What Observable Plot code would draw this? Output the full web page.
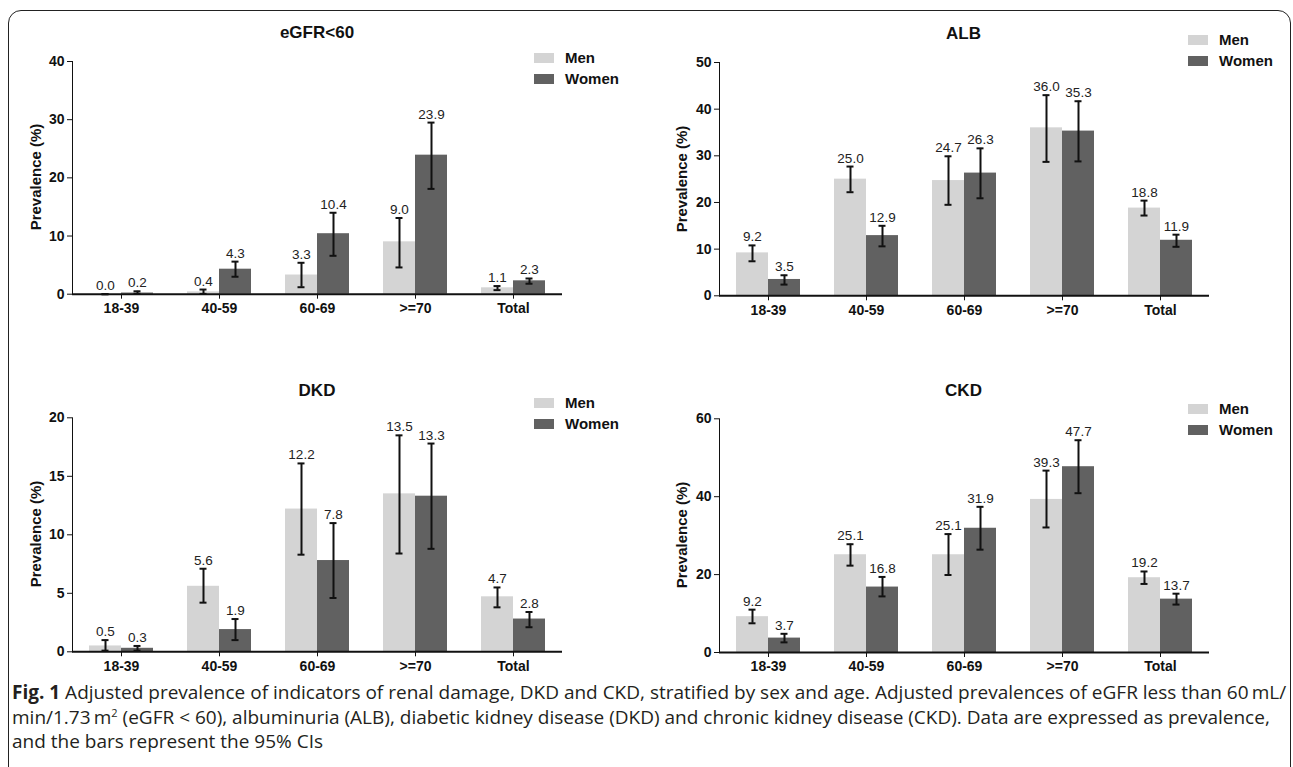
<!DOCTYPE html>
<html>
<head>
<meta charset="utf-8">
<script src="https://cdn.jsdelivr.net/npm/d3@7"></script>
<script src="https://cdn.jsdelivr.net/npm/@observablehq/plot@0.6"></script>
<style>
  html, body { margin: 0; padding: 0; background: #fff; }
  body { width: 1293px; height: 767px; position: relative; overflow: hidden; font-family: Arial, "Liberation Sans", Helvetica, sans-serif; }
  #frame { position: absolute; left: 8px; top: 10px; width: 1283px; height: 800px; border: 1.6px solid #222; border-radius: 13px; box-sizing: border-box; }
  .panel { position: absolute; }
  .title { position: absolute; font-weight: bold; font-size: 17px; color: #111; transform: translate(-50%, -50%); white-space: nowrap; }
  .ylab { position: absolute; font-weight: bold; font-size: 15px; color: #111; transform: translate(-50%, -50%) rotate(-90deg); white-space: nowrap; }
  .legend { position: absolute; font-weight: bold; font-size: 15px; color: #111; }
  .legend .row { position: absolute; left: 0; white-space: nowrap; height: 20px; line-height: 20px; }
  .legend .sw { display: inline-block; width: 20px; height: 10px; vertical-align: middle; margin-right: 11px; position: relative; top: -1px; }
  #caption { position: absolute; left: 12px; top: 680px; width: 1280px; font-family: "Open Sans", "Noto Sans", sans-serif; font-size: 19px; line-height: 24.5px; color: #231f20; white-space: nowrap; }
  #caption b { font-weight: bold; }
</style>
</head>
<body>
<div id="frame"></div>
<div id="root"></div>
<div id="caption"><b>Fig. 1</b> Adjusted prevalence of indicators of renal damage, DKD and CKD, stratified by sex and age. Adjusted prevalences of eGFR less than 60&#8201;mL/<br>min/1.73&#8201;m<sup style="font-size:11px;line-height:0">2</sup> (eGFR &lt; 60), albuminuria (ALB), diabetic kidney disease (DKD) and chronic kidney disease (CKD). Data are expressed as prevalence,<br>and the bars represent the 95% CIs</div>
<script>
// ---------- data ----------
const categories = ["18-39", "40-59", "60-69", ">=70", "Total"];
const sexes = ["Men", "Women"];
const colors = ["#d4d4d4", "#616161"];

// eGFR<60
const egfrMen = [0.0, 0.4, 3.3, 9.0, 1.1];
const egfrWomen = [0.2, 4.3, 10.4, 23.9, 2.3];
const egfrMenLow = [0.0, 0.05, 1.2, 4.6, 0.7];
const egfrMenHigh = [0.0, 0.8, 5.4, 13.1, 1.4];
const egfrWomenLow = [0.05, 3.0, 6.6, 18.1, 1.8];
const egfrWomenHigh = [0.5, 5.6, 14.0, 29.5, 2.7];
const egfrTicks = [0, 10, 20, 30, 40];

// ALB
const albMen = [9.2, 25.0, 24.7, 36.0, 18.8];
const albWomen = [3.5, 12.9, 26.3, 35.3, 11.9];
const albMenLow = [7.4, 22.2, 19.5, 28.7, 17.2];
const albMenHigh = [10.8, 27.7, 29.9, 43.0, 20.4];
const albWomenLow = [2.4, 10.6, 20.9, 28.8, 10.5];
const albWomenHigh = [4.4, 15.0, 31.6, 41.7, 13.1];
const albTicks = [0, 10, 20, 30, 40, 50];

// DKD
const dkdMen = [0.5, 5.6, 12.2, 13.5, 4.7];
const dkdWomen = [0.3, 1.9, 7.8, 13.3, 2.8];
const dkdMenLow = [0.1, 4.2, 8.3, 8.4, 3.8];
const dkdMenHigh = [1.0, 7.1, 16.1, 18.5, 5.5];
const dkdWomenLow = [0.1, 1.0, 4.6, 8.8, 2.1];
const dkdWomenHigh = [0.5, 2.8, 11.0, 17.8, 3.4];
const dkdTicks = [0, 5, 10, 15, 20];

// CKD
const ckdMen = [9.2, 25.1, 25.1, 39.3, 19.2];
const ckdWomen = [3.7, 16.8, 31.9, 47.7, 13.7];
const ckdMenLow = [7.5, 22.3, 19.9, 32.1, 17.6];
const ckdMenHigh = [11.0, 27.8, 30.4, 46.7, 20.8];
const ckdWomenLow = [2.6, 14.4, 26.4, 40.9, 12.3];
const ckdWomenHigh = [4.8, 19.4, 37.4, 54.5, 15.1];
const ckdTicks = [0, 20, 40, 60];

// ---------- drawing ----------
const root = document.getElementById("root");

function addDiv(cls, html, left, top) {
  const d = document.createElement("div");
  d.className = cls;
  d.innerHTML = html;
  d.style.left = left + "px";
  d.style.top = top + "px";
  root.appendChild(d);
  return d;
}

function panel(cfg) {
  const rows = categories.flatMap((c, i) => [
    {age: c, sex: "Men", value: cfg.men[i], lo: cfg.menLo[i], hi: cfg.menHi[i]},
    {age: c, sex: "Women", value: cfg.women[i], lo: cfg.womenLo[i], hi: cfg.womenHi[i]}
  ]);
  const chart = Plot.plot({
    width: cfg.width,
    height: cfg.height,
    marginTop: cfg.mt,
    marginBottom: cfg.mb,
    marginLeft: cfg.ml,
    marginRight: cfg.mr,
    style: {fontFamily: "Arial, 'Liberation Sans', Helvetica, sans-serif", fontSize: "14px", fontWeight: "bold", color: "#111", background: "transparent", overflow: "visible"},
    facet: {data: rows, x: "age"},
    fx: {domain: categories, padding: 0, label: null, tickSize: 5, tickPadding: 4, axis: "bottom"},
    x: {domain: sexes, paddingInner: 0, paddingOuter: 0.51, axis: null},
    y: {domain: [0, cfg.ticks[cfg.ticks.length - 1]], ticks: cfg.ticks, tickSize: 5, tickPadding: 3, label: null, line: true},
    color: {domain: sexes, range: colors},
    marks: [
      Plot.barY(rows, {x: "sex", y: "value", fill: "sex"}),
      Plot.ruleX(rows, {x: "sex", y1: "lo", y2: "hi", stroke: "#111", strokeWidth: 2}),
      Plot.tickY(rows, {x: "sex", y: "lo", stroke: "#111", strokeWidth: 2, insetLeft: 12.5, insetRight: 12.5}),
      Plot.tickY(rows, {x: "sex", y: "hi", stroke: "#111", strokeWidth: 2, insetLeft: 12.5, insetRight: 12.5}),
      Plot.text(rows, {x: "sex", y: "hi", text: d => d.value.toFixed(1), dy: -4, lineAnchor: "bottom", fontWeight: "normal", fontSize: 13.5, fill: "#222"}),
      Plot.ruleY([0], {stroke: "#111", strokeWidth: 2})
    ]
  });
  const wrap = document.createElement("div");
  wrap.className = "panel";
  wrap.style.left = cfg.left + "px";
  wrap.style.top = cfg.top + "px";
  wrap.appendChild(chart);
  root.appendChild(wrap);

  const plotLeft = cfg.left + cfg.ml;
  const plotRight = cfg.left + cfg.width - cfg.mr;
  const plotTop = cfg.top + cfg.mt;
  const plotBottom = cfg.top + cfg.height - cfg.mb;
  addDiv("title", cfg.title, (plotLeft + plotRight) / 2, cfg.titleY);
  addDiv("ylab", "Prevalence (%)", cfg.ylabX, (plotTop + plotBottom) / 2);
  const lg = addDiv("legend", "", cfg.legendX, cfg.legendY);
  sexes.forEach((s, i) => {
    const r = document.createElement("div");
    r.className = "row";
    r.style.top = (i * cfg.legendGap - 10) + "px";
    r.innerHTML = `<span class="sw" style="background:${colors[i]}"></span>${s}`;
    lg.appendChild(r);
  });
}

panel({title: "eGFR&lt;60", men: egfrMen, women: egfrWomen, menLo: egfrMenLow, menHi: egfrMenHigh, womenLo: egfrWomenLow, womenHi: egfrWomenHigh, ticks: egfrTicks,
  left: 0, top: 0, width: 650, height: 330, ml: 71, mr: 87, mt: 61, mb: 36.3, titleY: 33, ylabX: 35, legendX: 534, legendY: 58, legendGap: 21});
panel({title: "ALB", men: albMen, women: albWomen, menLo: albMenLow, menHi: albMenHigh, womenLo: albWomenLow, womenHi: albWomenHigh, ticks: albTicks,
  left: 646, top: 0, width: 647, height: 330, ml: 71, mr: 83, mt: 62, mb: 34.7, titleY: 34, ylabX: 681, legendX: 1188, legendY: 40, legendGap: 21});
panel({title: "DKD", men: dkdMen, women: dkdWomen, menLo: dkdMenLow, menHi: dkdMenHigh, womenLo: dkdWomenLow, womenHi: dkdWomenHigh, ticks: dkdTicks,
  left: 0, top: 340, width: 650, height: 345, ml: 71, mr: 87, mt: 77.3, mb: 33.7, titleY: 391, ylabX: 35, legendX: 534, legendY: 403, legendGap: 21});
panel({title: "CKD", men: ckdMen, women: ckdWomen, menLo: ckdMenLow, menHi: ckdMenHigh, womenLo: ckdWomenLow, womenHi: ckdWomenHigh, ticks: ckdTicks,
  left: 646, top: 340, width: 647, height: 345, ml: 71, mr: 83, mt: 78.3, mb: 33, titleY: 391, ylabX: 681, legendX: 1188, legendY: 409, legendGap: 21});
</script>
</body>
</html>
